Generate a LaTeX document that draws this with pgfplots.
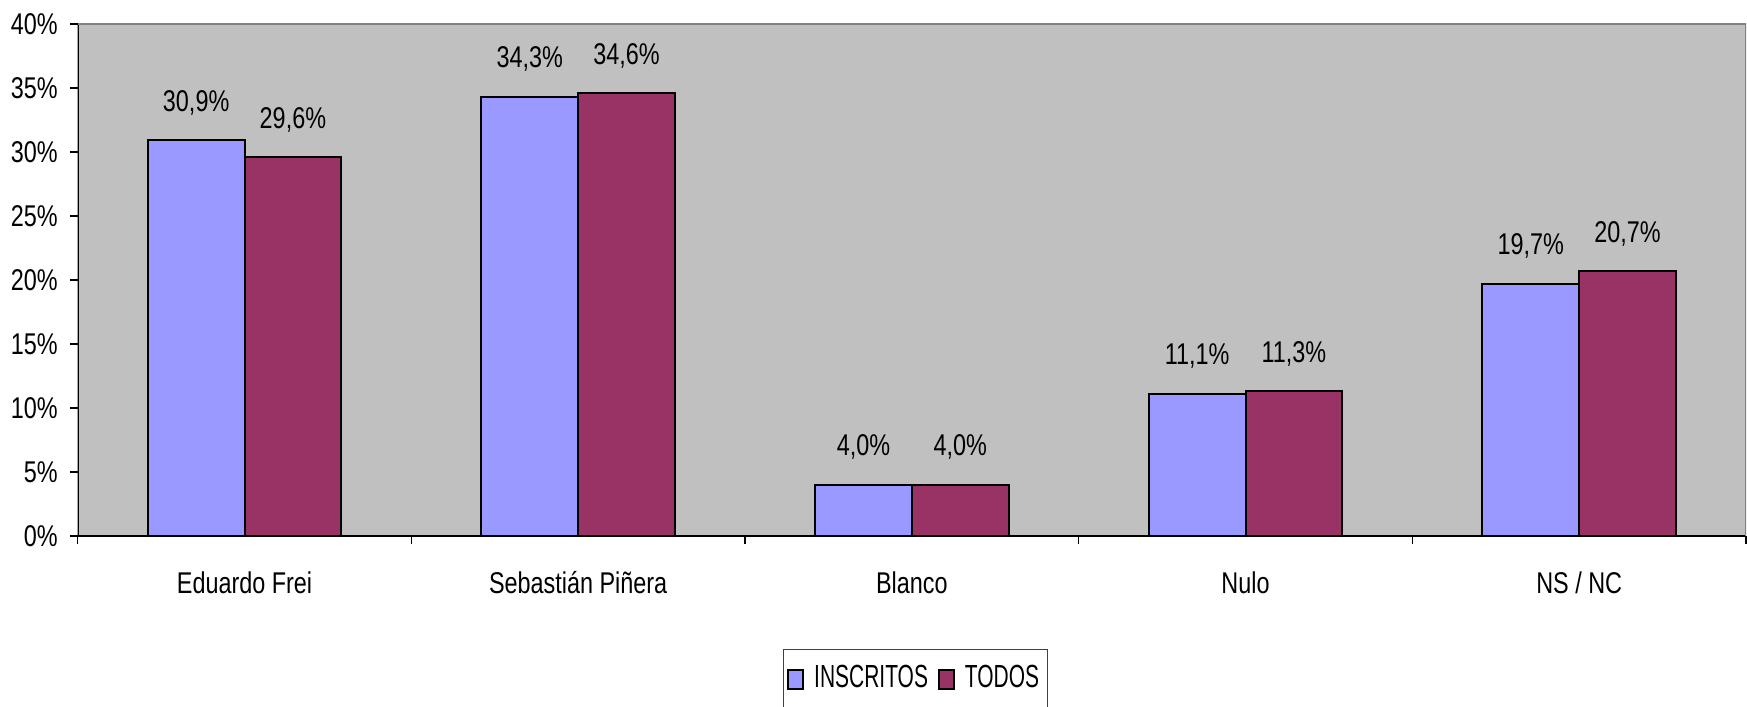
\documentclass[border=0pt]{standalone}
\usepackage{pgfplots}
\pgfplotsset{compat=1.18}
\usepackage{fontspec}
\setmainfont{Liberation Sans}[FakeStretch=0.78]
\newfontfamily\legfont{Liberation Sans}[FakeStretch=0.655]
\definecolor{inscritos}{HTML}{9999FF}
\definecolor{todos}{HTML}{993366}
\definecolor{plotbg}{HTML}{C0C0C0}

\pgfplotsset{
  legsq/.style={legend image code/.code={
      \draw[##1, line width=1pt] (0pt,-4.75pt) rectangle (7.5pt,4.75pt);}},
}

\begin{document}
\fontsize{15}{18}\selectfont
\begin{tikzpicture}
\useasboundingbox (0,0) rectangle (873.5pt,353.5pt);
\begin{axis}[
    at={(38.85pt,85.5pt)}, anchor=south west,
    width=834.15pt, height=256pt, scale only axis,
    ybar=0pt, bar width=0.29,
    xmin=-0.5, xmax=4.5, ymin=0, ymax=40,
    xtick={-0.5,0.5,1.5,2.5,3.5,4.5},
    xticklabels={Eduardo Frei, Sebastián Piñera, Blanco, Nulo, NS / NC, {}},
    xticklabel style={anchor=base, inner sep=0pt, xshift=83.415pt, yshift=-24.5pt},
    ytick={0,5,...,40},
    yticklabel={\pgfmathprintnumber{\tick}\%},
    yticklabel style={inner sep=0pt, xshift=-5.85pt},
    /pgf/number format/assume math mode=true,
    major tick length=4pt,
    tick align=outside, tick pos=left,
    tick style={black, line width=0.6pt},
    axis background/.style={fill=plotbg},
    axis line style={draw=none},
    nodes near coords={\pgfmathprintnumber[fixed,fixed zerofill,precision=1,use comma]{\pgfplotspointmeta}\%},
    every node near coord/.append style={anchor=base, inner sep=0pt, yshift=14.5pt, black},
    legend style={at={(0.502,-0.2207)}, anchor=north, legend columns=2,
      draw=black!75, line width=0.6pt, fill=white,
      font=\legfont\fontsize{16}{19}\selectfont,
      inner xsep=2pt, inner ysep=6pt,
      /tikz/every odd column/.append style={column sep=3pt},
      /tikz/every even column/.append style={column sep=3pt}},
]
\addplot[fill=inscritos, draw=black, line width=1pt, legsq] coordinates {
    (0,30.9) (1,34.3) (2,4.0) (3,11.1) (4,19.7)};
\addplot[fill=todos, draw=black, line width=1pt, legsq] coordinates {
    (0,29.6) (1,34.6) (2,4.0) (3,11.3) (4,20.7)};
\legend{INSCRITOS, TODOS}
\draw[black, line width=1pt] (rel axis cs:0,1) -- (rel axis cs:0,0) -- (rel axis cs:1,0);
\draw[gray, line width=1.5pt] (rel axis cs:0,1) -- (rel axis cs:1,1) -- (rel axis cs:1,0);
\end{axis}
\end{tikzpicture}
\end{document}
